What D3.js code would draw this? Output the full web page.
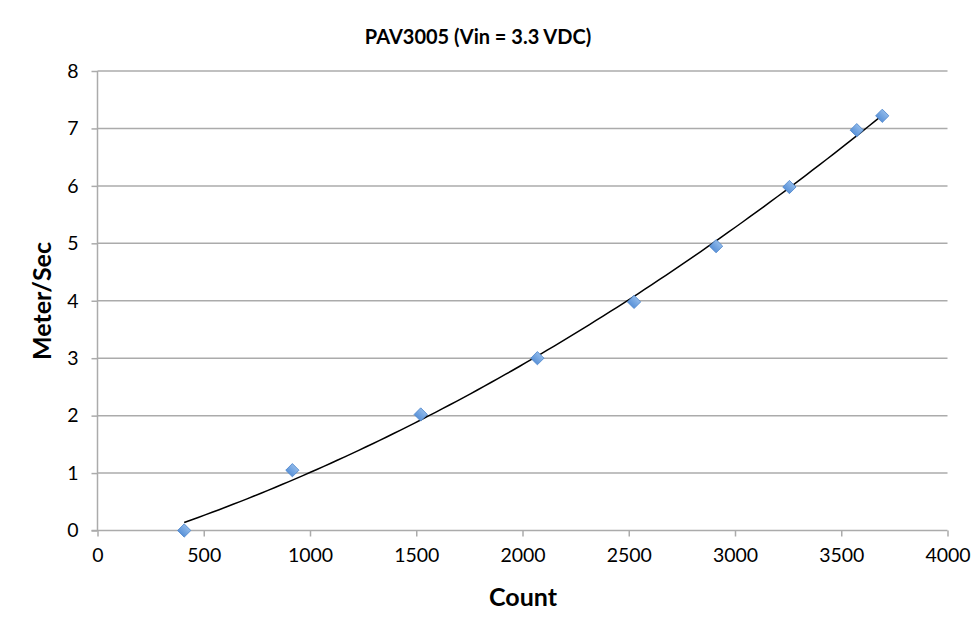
<!DOCTYPE html>
<html>
<head>
<meta charset="utf-8">
<script src="https://cdn.jsdelivr.net/npm/d3@7"></script>
<style>
  html, body { margin: 0; padding: 0; background: #fff; }
  svg text { font-family: Lato, "Open Sans", sans-serif; fill: #000; }
</style>
</head>
<body>
<svg id="chart" width="979" height="630"></svg>
<script>
// ---- data ----
const counts = [408, 917, 1521, 2070, 2525, 2911, 3256, 3573, 3693];
const speeds = [0, 1.05, 2.02, 3.0, 3.98, 4.95, 5.98, 6.97, 7.22];
const xTicks = [0, 500, 1000, 1500, 2000, 2500, 3000, 3500, 4000];
const yTicks = [0, 1, 2, 3, 4, 5, 6, 7, 8];
const title = "PAV3005 (Vin = 3.3 VDC)";
const xLabel = "Count";
const yLabel = "Meter/Sec";

// ---- layout ----
const plotL = 97.5, plotR = 947.5, plotT = 71, plotB = 530.5;
const svg = d3.select("#chart");

const x = d3.scaleLinear().domain([0, 4000]).range([plotL, plotR]);
const y = d3.scaleLinear().domain([0, 8]).range([plotB, plotT]);

const gridColor = "#ababab";

// gridlines
svg.append("g").selectAll("line").data(yTicks.filter(d => d > 0)).join("line")
  .attr("x1", plotL).attr("x2", plotR)
  .attr("y1", d => y(d)).attr("y2", d => y(d))
  .attr("stroke", gridColor).attr("stroke-width", 1.5);

// y axis
const yAxis = svg.append("g").attr("transform", `translate(${plotL},0)`)
  .call(d3.axisLeft(y).tickValues(yTicks).tickFormat(d3.format("d")).tickSize(6).tickPadding(13));
// x axis
const xAxis = svg.append("g").attr("transform", `translate(0,${plotB})`)
  .call(d3.axisBottom(x).tickValues(xTicks).tickFormat(d3.format("d")).tickSize(6).tickPadding(12));

[yAxis, xAxis].forEach(g => {
  g.select(".domain").attr("stroke", gridColor).attr("stroke-width", 1.5);
  g.selectAll(".tick line").attr("stroke", gridColor).attr("stroke-width", 1.5);
  g.selectAll(".tick text").attr("font-size", 19.5).attr("font-family", "Lato, sans-serif").attr("fill", "#000");
});
yAxis.select(".domain").attr("d", `M0,${plotB}V${plotT}`);
xAxis.select(".domain").attr("d", `M${plotL - 6},0H${plotR}`);

// quadratic least-squares trendline from data
function polyfit2(xs, ys) {
  let n = xs.length, s = [0,0,0,0,0], t = [0,0,0];
  for (let i = 0; i < n; i++) {
    let p = 1;
    for (let k = 0; k < 5; k++) { s[k] += p; if (k < 3) t[k] += p * ys[i]; p *= xs[i]; }
  }
  const A = [[s[0], s[1], s[2], t[0]], [s[1], s[2], s[3], t[1]], [s[2], s[3], s[4], t[2]]];
  for (let i = 0; i < 3; i++) {
    for (let j = i + 1; j < 3; j++) {
      const f = A[j][i] / A[i][i];
      for (let k = i; k < 4; k++) A[j][k] -= f * A[i][k];
    }
  }
  const c = [0,0,0];
  for (let i = 2; i >= 0; i--) {
    let v = A[i][3];
    for (let k = i + 1; k < 3; k++) v -= A[i][k] * c[k];
    c[i] = v / A[i][i];
  }
  return c;
}
const coef = polyfit2(counts, speeds);
const x0 = d3.min(counts), x1 = d3.max(counts);
const trend = d3.range(0, 101).map(i => {
  const cx = x0 + (x1 - x0) * i / 100;
  return [cx, coef[0] + coef[1] * cx + coef[2] * cx * cx];
});
svg.append("path")
  .attr("d", d3.line().x(d => x(d[0])).y(d => y(d[1]))(trend))
  .attr("fill", "none").attr("stroke", "#000").attr("stroke-width", 1.5);

// markers
const defs = svg.append("defs");
const grad = defs.append("linearGradient").attr("id", "mk").attr("x1", 0).attr("y1", 0).attr("x2", 0).attr("y2", 1);
grad.append("stop").attr("offset", "0%").attr("stop-color", "#8fb9ea");
grad.append("stop").attr("offset", "100%").attr("stop-color", "#5a92d8");
const sym = d3.symbol().type(d3.symbolSquare).size(88);
svg.append("g").selectAll("path").data(counts.map((c, i) => [c, speeds[i]])).join("path")
  .attr("d", sym)
  .attr("transform", d => `translate(${x(d[0])},${y(d[1])}) rotate(45)`)
  .attr("fill", "url(#mk)").attr("stroke", "#4f86cc").attr("stroke-width", 0.8);

// title and axis labels
svg.append("text").attr("x", 478).attr("y", 44).attr("text-anchor", "middle")
  .attr("font-size", 20).attr("font-weight", "bold").text(title);
svg.append("text").attr("x", 523).attr("y", 606).attr("text-anchor", "middle")
  .attr("font-size", 25).attr("font-weight", "bold").text(xLabel);
svg.append("text").attr("transform", "translate(51,301) rotate(-90)").attr("text-anchor", "middle")
  .attr("font-size", 25).attr("font-weight", "bold").text(yLabel);
</script>
</body>
</html>
